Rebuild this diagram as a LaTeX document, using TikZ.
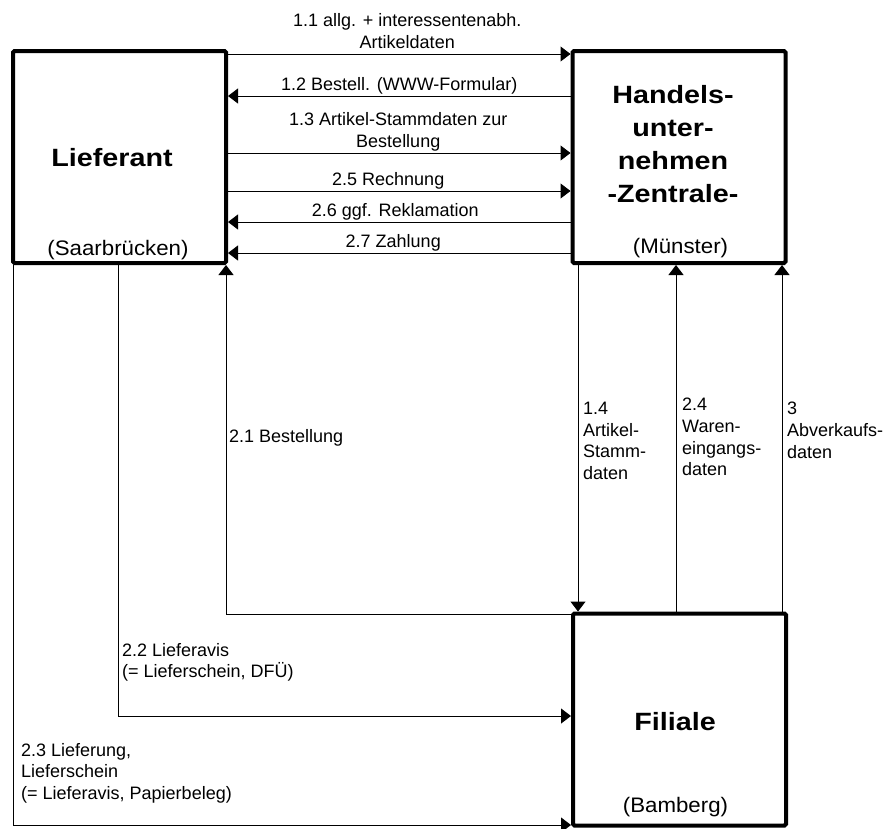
\documentclass[tikz,border=0pt]{standalone}
\usepackage{fontspec}
\setmainfont{Liberation Sans}
\newfontfamily\breitfont{Liberation Sans}[FakeStretch=1.15]
\newfontfamily\ortfont{Liberation Sans}[FakeStretch=1.06]
\usetikzlibrary{arrows.meta}

\tikzset{
    stelle/.style={draw, line width=4pt, rounded corners=1.5pt, minimum width=213pt, minimum height=212pt, inner sep=0pt},
    titel/.style={font=\breitfont\fontsize{25}{33}\selectfont\bfseries, align=center, inner sep=0pt},
    ort/.style={font=\ortfont\fontsize{21}{25}\selectfont, inner sep=0pt, anchor=base},
    fluss/.style={line width=1pt, -{Triangle[length=10pt,width=15pt]}},
    beschr/.style={font=\fontsize{18}{22}\selectfont, inner sep=0pt, text depth=0pt, align=center, anchor=south, yshift=5pt},
    randtext/.style={font=\fontsize{18}{21.7}\selectfont, inner sep=0pt, align=left, anchor=north west}
}

\begin{document}
\begin{tikzpicture}[x=1pt, y=-1pt]
                \useasboundingbox (0,0) rectangle (885,828);

                % Stellen
                \node[stelle] (lief) at (119.5,157) {};
                \node[stelle] (zent) at (679,157) {};
                \node[stelle] (fil) at (679.5,719.5) {};

                \node[titel, anchor=base] (lief-t) at (112,166) {Lieferant};
                \node[titel, anchor=north] (zent-t) at (673,85) {Handels-\\unter-\\nehmen\\-Zentrale-};
                \node[titel, anchor=base] (fil-t) at (675,730) {Filiale};
                \node[ort] (lief-o) at (118,255) {(Saarbrücken)};
                \node[ort] (zent-o) at (680.5,253) {(Münster)};
                \node[ort] (fil-o) at (675.5,812) {(Bamberg)};

                % Lieferant <-> Zentrale
                \draw[fluss] (lief.east |- 0,54) -- (zent.west |- 0,54) node[beschr, midway, xshift=8pt] (f11) {1.1 allg. + interessentenabh.\\Artikeldaten};
                \draw[fluss] (zent.west |- 0,96) -- (lief.east |- 0,96) node[beschr, midway] (f12) {1.2 Bestell. (WWW-Formular)};
                \draw[fluss] (lief.east |- 0,153) -- (zent.west |- 0,153) node[beschr, midway, xshift=-1pt] (f13) {1.3 Artikel-Stammdaten zur\\Bestellung};
                \draw[fluss] (lief.east |- 0,191) -- (zent.west |- 0,191) node[beschr, midway, xshift=-11pt] (f25) {2.5 Rechnung};
                \draw[fluss] (zent.west |- 0,222) -- (lief.east |- 0,222) node[beschr, midway, xshift=-4pt] (f26) {2.6 ggf. Reklamation};
                \draw[fluss] (zent.west |- 0,253) -- (lief.east |- 0,253) node[beschr, midway, xshift=-6pt] (f27) {2.7 Zahlung};

                % Zentrale <-> Filiale
                \draw[fluss] (zent.south -| 578,0) -- (fil.north -| 578,0);
                \draw[fluss] (fil.north -| 676,0) -- (zent.south -| 676,0);
                \draw[fluss] (fil.north -| 782,0) -- (zent.south -| 782,0);
                \node[randtext] (f14) at (583,402) {1.4\\Artikel-\\Stamm-\\daten};
                \node[randtext] (f24) at (682,398) {2.4\\Waren-\\eingangs-\\daten};
                \node[randtext] (f3) at (787,402) {3\\Abverkaufs-\\daten};

                % Filiale <-> Lieferant
                \draw[fluss] (fil.west |- 0,614) -| (lief.south -| 226,0);
                \node[randtext] (f21) at (229,429) {2.1 Bestellung};
                \draw[fluss] (lief.south -| 118,0) |- (fil.west |- 0,716);
                \node[randtext] (f22) at (122,643) {2.2 Lieferavis\\(= Lieferschein, DFÜ)};
                \draw[fluss] (lief.south -| 13,0) |- (fil.west |- 0,825);
                \node[randtext] (f23) at (21,743) {2.3 Lieferung,\\Lieferschein\\(= Lieferavis, Papierbeleg)};
\end{tikzpicture}
\end{document}
